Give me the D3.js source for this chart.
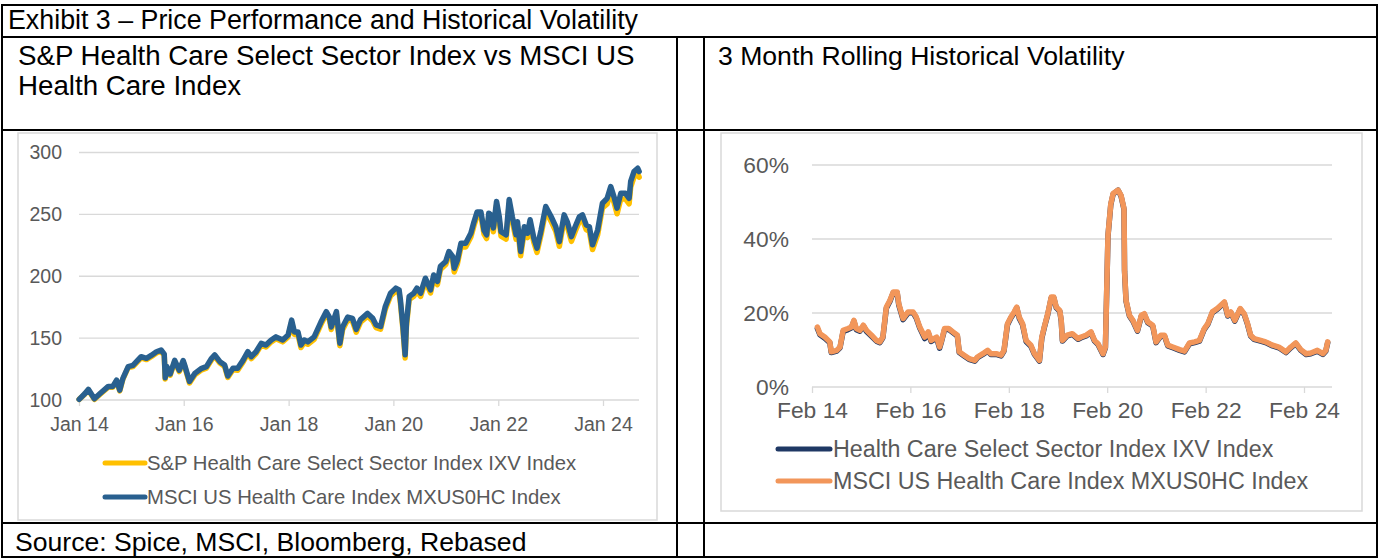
<!DOCTYPE html>
<html><head><meta charset="utf-8">
<script src="https://cdn.jsdelivr.net/npm/d3@7"></script>
<style>
html,body{margin:0;padding:0;background:#fff;}
svg{display:block;font-family:"Liberation Sans",Arial,sans-serif;}
</style></head><body>
<svg id="c" width="1379" height="559"></svg>
<script>
// ---------- DATA ----------
const exhibitTitle = "Exhibit 3 \u2013 Price Performance and Historical Volatility";
const leftTitle = ["S&P Health Care Select Sector Index vs MSCI US", "Health Care Index"];
const rightTitle = "3 Month Rolling Historical Volatility";
const sourceText = "Source: Spice, MSCI, Bloomberg, Rebased";
const priceSeriesNames = ["S&P Health Care Select Sector Index IXV Index", "MSCI US Health Care Index MXUS0HC Index"];
const volSeriesNames = ["Health Care Select Sector Index IXV Index", "MSCI US Health Care Index MXUS0HC Index"];

const priceDates = ["2014-01-02","2014-02-10","2014-03-07","2014-04-18","2014-05-26","2014-07-24","2014-08-25","2014-09-20","2014-10-12","2014-11-03","2014-12-10",
"2015-01-12","2015-03-10","2015-04-16","2015-05-19","2015-06-25","2015-07-27","2015-08-18","2015-08-25","2015-09-05","2015-09-28","2015-10-30","2015-12-01","2015-12-28",
"2016-01-08","2016-02-10","2016-03-18","2016-05-05","2016-06-07","2016-07-13","2016-08-04","2016-09-09","2016-10-12","2016-11-03","2016-12-09",
"2017-01-11","2017-02-17","2017-03-22","2017-04-16","2017-05-19","2017-06-24","2017-07-27","2017-09-02","2017-10-05","2017-11-21","2017-12-28",
"2018-01-22","2018-02-10","2018-03-07","2018-03-28","2018-04-20","2018-05-15","2018-06-28","2018-08-14","2018-09-20","2018-10-12","2018-10-25","2018-11-30","2018-12-24",
"2019-01-12","2019-02-17","2019-03-22","2019-04-17","2019-05-17","2019-07-05","2019-08-10","2019-09-02","2019-10-04","2019-11-06","2019-12-12",
"2020-01-18","2020-02-10","2020-02-19","2020-03-08","2020-03-23","2020-04-01","2020-04-20","2020-05-22","2020-06-13","2020-07-09","2020-08-11","2020-09-16","2020-10-08","2020-11-03","2020-11-24","2020-12-31",
"2021-01-22","2021-02-17","2021-02-28","2021-03-22","2021-04-16","2021-05-19","2021-06-24","2021-07-16","2021-08-07","2021-09-02","2021-09-24","2021-10-12","2021-10-27","2021-11-10","2021-11-28","2021-12-20",
"2022-01-08","2022-01-20","2022-02-25","2022-03-18","2022-04-09","2022-05-05","2022-05-15","2022-06-06","2022-07-02","2022-07-24","2022-08-11","2022-09-06","2022-09-28","2022-10-27","2022-11-28",
"2023-01-04","2023-02-06","2023-03-03","2023-04-05","2023-04-27","2023-05-26","2023-06-21","2023-07-20","2023-08-11","2023-09-06","2023-09-28","2023-10-20","2023-11-25","2023-12-28",
"2024-01-30","2024-02-24","2024-03-17","2024-04-08","2024-05-04","2024-06-05","2024-07-01","2024-07-12","2024-08-04","2024-08-30","2024-09-09"];

const msciPrice = [100.5,105,108.6,101,105,111,111,116,108,117.5,127,
128,135,133.7,136,139,140.4,137,118,127,121,132,124,131.8,
128,115,121.5,125.6,127,133.7,136.4,131,128.3,119.4,125.6,
125.6,132,139,135,139,145.8,144.4,148.5,151,148.5,152.5,
164.6,155,155,144.4,148.5,147,151,163,171.4,167,159,171.4,145.8,
159,167,166,157,165,170,166,160.7,159.4,175.6,186.3,
190.4,189,181,159,136.5,162,183.6,186.3,190.4,186.3,198.4,189,201,195.8,208,212,
220,216,206.5,213,226.7,226.7,234.8,244,252,252,237,233.5,251,249.6,239,260.4,
248,236,233.5,262,248,233.5,244,220,240,234.8,245.6,230.8,222.7,237.5,256.4,
248.3,240,228,249.6,244,232,240,248,249.6,241.5,240,225.4,237.5,259,
263,272.5,264.4,255,267,267,263,276.6,284.6,287.3,284.6];

const spPrice = [100.5,104.6,108.1,100.5,104.5,110.4,110.4,115.4,107.4,116.9,126.3,
127,134,132.7,135,138,139.4,136,117,126,120,131,123,130.8,
126.8,113.8,120.3,124.4,125.8,132.5,135.2,129.8,127.1,118.2,124.4,
124.1,130.5,137.5,133.5,137.5,144.3,142.9,147,149.5,147,151,
162.6,153,153,142.4,146.5,145,149,161,169.4,165,157,169.4,143.8,
156.8,164.8,163.8,154.8,162.8,167.8,163.8,158.5,157.2,173.4,184.1,
187.9,186.5,178.5,156.5,134,159.5,181.1,183.8,187.9,183.8,195.9,186.5,198.5,193.3,205.5,209.5,
217,213,203.5,210,223.7,223.7,231.8,241,249,249,234,230.5,248,246.6,236,257.4,
244.5,232.5,230,258.5,244.5,230,240.5,216.5,236.5,231.3,242.1,227.3,219.2,234,252.9,
244.5,236.2,224.2,245.8,240.2,228.2,236.2,244.2,245.8,237.7,236.2,221.6,233.7,255.2,
258.5,268,259.9,250.5,262.5,262.5,258.5,272.1,280.1,282.8,280.1];

const priceTicks = [100,150,200,250,300];
const priceTickDates = ["2014-01-01","2016-01-01","2018-01-01","2020-01-01","2022-01-01","2024-01-01"];

const volDates = ["2014-03-13","2014-04-01","2014-05-07","2014-06-13","2014-06-24","2014-08-03","2014-08-28","2014-09-20","2014-10-26","2014-11-21","2014-12-09","2014-12-27",
"2015-01-22","2015-02-17","2015-03-13","2015-04-19","2015-05-25","2015-06-20","2015-07-12","2015-08-07","2015-09-02","2015-09-27","2015-10-26","2015-11-07","2015-12-09",
"2016-01-15","2016-02-21","2016-03-16","2016-04-11","2016-05-18","2016-06-13","2016-07-04","2016-08-14","2016-09-05","2016-09-20","2016-10-12","2016-11-11","2016-12-13",
"2017-01-15","2017-01-29","2017-03-06","2017-04-11","2017-05-25","2017-06-13","2017-07-23","2017-08-28","2017-09-20","2017-10-30","2017-12-06","2017-12-27",
"2018-01-22","2018-02-17","2018-03-13","2018-04-01","2018-04-19","2018-05-14","2018-06-09","2018-07-15","2018-08-10","2018-09-16","2018-10-04","2018-10-22","2018-11-17","2018-12-13",
"2019-01-01","2019-01-19","2019-02-14","2019-02-25","2019-03-06","2019-04-11","2019-05-18","2019-07-01","2019-07-23","2019-08-28","2019-10-04","2019-10-30","2019-11-25",
"2020-01-01","2020-01-19","2020-01-26","2020-02-07","2020-02-28","2020-03-16","2020-04-22","2020-05-14","2020-06-05","2020-06-09","2020-06-20","2020-07-15","2020-08-10","2020-09-13","2020-10-12","2020-11-03","2020-11-28",
"2021-01-04","2021-01-29","2021-03-06","2021-04-01","2021-04-26","2021-06-02","2021-07-23","2021-08-28","2021-10-04","2021-11-11","2021-12-17",
"2022-01-22","2022-02-17","2022-03-23","2022-04-28","2022-06-20","2022-07-15","2022-08-07","2022-09-05","2022-10-15","2022-11-14","2022-12-09",
"2023-01-01","2023-01-26","2023-03-16","2023-04-22","2023-06-13","2023-07-29","2023-09-20","2023-10-26","2023-12-02",
"2024-01-08","2024-02-17","2024-03-23","2024-05-10","2024-06-20","2024-07-12","2024-07-26"];

const msciVol = [16.2,14.4,13.5,12.2,9.5,9.9,10.8,15.3,15.8,16.2,18,15.8,
15.3,16.7,15.3,14,12.6,12.2,13.5,21.6,23.4,25.7,25.7,22.5,18.5,
20.3,20.3,18.9,16.2,13.5,14.9,12.6,13.5,10.8,12.6,15.8,15.8,14.9,
14,9.5,8.6,7.7,7.2,8.1,9,9.9,9,9,8.6,9.9,
17.1,18.9,20.3,21.6,18.9,17.1,12.6,11.3,9,7.2,13.5,16.2,19.8,24.3,
24.3,21.6,20.7,18,12.6,14,14.4,13.1,13.5,14,14.9,12.6,11.7,
9,10.8,22,41,49.5,52.3,53.2,51.8,48.2,31.5,23.4,19.4,18,15.3,19.4,19.8,17.6,
16.7,12.2,14,14,11.3,10.8,10.1,9.7,11.9,12.2,12.6,
15.8,17.1,20.3,21.2,23,19.4,20.3,18,21.2,19.8,17.1,
14,13.1,12.6,12.2,11.3,10.8,9.5,10.8,11.9,
10.1,9,9.2,9.9,9,9.9,12.2];

const ixvVol = [15.8,14.1,13.2,12,9.3,9.7,10.6,15,15.5,16,17.8,15.5,
15.1,16.5,15,13.7,12.4,12,13.3,21.3,23.1,25.5,25.5,22.2,18.2,
20,20.1,18.6,15.9,13.1,14.6,12.3,13.2,10.5,12.4,15.5,15.6,14.7,
13.8,9.3,8.4,7.5,7,7.9,8.8,9.7,8.8,8.8,8.4,9.7,
16.8,18.7,20,21.4,18.6,16.8,12.3,11,8.8,7,13.2,16,19.6,24.1,
24.1,21.4,20.5,17.8,12.4,13.8,14.2,12.9,13.3,13.8,14.7,12.4,11.5,
8.8,10.6,21.8,40.8,49.3,52.1,53.2,51.6,48,31.3,23.2,19.2,17.8,15.1,19.2,19.6,17.4,
16.5,12,13.8,13.8,11.1,10.6,9.9,9.5,11.7,12,12.4,
15.6,16.9,20.1,21,22.8,19.2,20.1,17.8,21,19.6,16.9,
13.8,12.9,12.4,12,11.1,10.6,9.3,10.6,11.7,
9.9,8.8,9,9.7,8.8,9.7,12];

const volTicks = [0,20,40,60];
const volTickDates = ["2014-02-01","2016-02-01","2018-02-01","2020-02-01","2022-02-01","2024-02-01"];

// ---------- STYLE ----------
const C = {
  border:"#000", frame:"#d9d9d9", grid:"#d9d9d9", text:"#595959",
  yellow:"#FFC000", blue:"#29608F", navy:"#1F3864", orange:"#F2965A"
};
const FONT = "Liberation Sans, Arial, sans-serif";
const parse = d3.timeParse("%Y-%m-%d");
const svg = d3.select("#c");

// ---------- TABLE ----------
const tb = svg.append("g");
const hl = (y,x1,x2)=>tb.append("line").attr("x1",x1).attr("x2",x2).attr("y1",y).attr("y2",y).attr("stroke",C.border).attr("stroke-width",2);
const vl = (x,y1,y2)=>tb.append("line").attr("x1",x).attr("x2",x).attr("y1",y1).attr("y2",y2).attr("stroke",C.border).attr("stroke-width",2);
hl(5,1,1378); hl(37,1,1378); hl(130,1,1378); hl(523,1,1378); hl(557,1,1378);
vl(2,5,557); vl(1377,5,557); vl(677,37,557); vl(704,37,557);

tb.append("text").attr("x",8).attr("y",29).attr("font-size",26.8).attr("fill","#000").text(exhibitTitle);
leftTitle.forEach((t,i)=>tb.append("text").attr("x",18).attr("y",65+i*30).attr("font-size",27.7).attr("fill","#000").text(t));
tb.append("text").attr("x",718).attr("y",65).attr("font-size",26.6).attr("fill","#000").text(rightTitle);
tb.append("text").attr("x",15).attr("y",551).attr("font-size",26.6).attr("fill","#000").text(sourceText);

// ---------- LEFT CHART ----------
const L = svg.append("g");
L.append("rect").attr("x",18).attr("y",133).attr("width",639).attr("height",387).attr("fill","#fff").attr("stroke",C.frame).attr("stroke-width",1.5);
const xL = d3.scaleTime().domain([parse("2014-01-01"), parse("2024-01-01")]).range([79,603]);
const yL = d3.scaleLinear().domain([100,300]).range([400,152.5]);
L.append("g").selectAll("line").data(priceTicks).join("line")
  .attr("x1",79).attr("x2",639).attr("y1",d=>yL(d)).attr("y2",d=>yL(d))
  .attr("stroke",C.grid).attr("stroke-width",1.3);
const axLx = L.append("g").attr("transform","translate(0,400)")
  .call(d3.axisBottom(xL).tickValues(priceTickDates.map(parse)).tickSize(6).tickPadding(11).tickFormat(d3.timeFormat("%b %y")));
axLx.select(".domain").remove();
axLx.selectAll("line").attr("stroke",C.grid).attr("stroke-width",1.3);
axLx.selectAll("text").attr("fill",C.text).attr("font-size",19.5).attr("font-family",FONT);
const axLy = L.append("g").attr("transform","translate(79,0)")
  .call(d3.axisLeft(yL).tickValues(priceTicks).tickSize(0).tickPadding(17));
axLy.select(".domain").remove();
axLy.selectAll("text").attr("fill",C.text).attr("font-size",19.5).attr("font-family",FONT);

const lineL = d3.line().x(d=>xL(d[0])).y(d=>yL(d[1]));
const pd = priceDates.map(parse);
L.append("path").datum(pd.map((d,i)=>[d,spPrice[i]])).attr("d",lineL)
  .attr("fill","none").attr("stroke",C.yellow).attr("stroke-width",5.5).attr("stroke-linejoin","round").attr("stroke-linecap","round");
L.append("path").datum(pd.map((d,i)=>[d,msciPrice[i]])).attr("d",lineL)
  .attr("fill","none").attr("stroke",C.blue).attr("stroke-width",5.5).attr("stroke-linejoin","round").attr("stroke-linecap","round");

const legL = L.append("g");
[[C.yellow,463],[C.blue,497]].forEach((c,i)=>{
  legL.append("line").attr("x1",105).attr("x2",145).attr("y1",c[1]).attr("y2",c[1]).attr("stroke",c[0]).attr("stroke-width",5).attr("stroke-linecap","round");
  legL.append("text").attr("x",147).attr("y",c[1]).attr("dy","0.35em").attr("font-size",20.3).attr("fill",C.text).text(priceSeriesNames[i]);
});

// ---------- RIGHT CHART ----------
const R = svg.append("g");
R.append("rect").attr("x",721).attr("y",133).attr("width",641).attr("height",378).attr("fill","#fff").attr("stroke",C.frame).attr("stroke-width",1.5);
const xR = d3.scaleTime().domain([parse("2014-02-01"), parse("2024-02-01")]).range([812,1304]);
const yR = d3.scaleLinear().domain([0,60]).range([387,165]);
R.append("g").selectAll("line").data(volTicks).join("line")
  .attr("x1",812).attr("x2",1332).attr("y1",d=>yR(d)).attr("y2",d=>yR(d))
  .attr("stroke",C.grid).attr("stroke-width",1.3);
const axRx = R.append("g").attr("transform","translate(0,387)")
  .call(d3.axisBottom(xR).tickValues(volTickDates.map(parse)).tickSize(6).tickPadding(9).tickFormat(d3.timeFormat("%b %y")));
axRx.select(".domain").remove();
axRx.selectAll("line").attr("stroke",C.grid).attr("stroke-width",1.3);
axRx.selectAll("text").attr("fill",C.text).attr("font-size",22.8).attr("font-family",FONT);
const axRy = R.append("g").attr("transform","translate(812,0)")
  .call(d3.axisLeft(yR).tickValues(volTicks).tickSize(0).tickPadding(23).tickFormat(d=>d+"%"));
axRy.select(".domain").remove();
axRy.selectAll("text").attr("fill",C.text).attr("font-size",22.8).attr("font-family",FONT);

const lineR = d3.line().x(d=>xR(d[0])).y(d=>yR(d[1]));
const vd = volDates.map(parse);
R.append("path").datum(vd.map((d,i)=>[d,ixvVol[i]])).attr("d",lineR)
  .attr("fill","none").attr("stroke",C.navy).attr("stroke-width",5.5).attr("stroke-linejoin","round").attr("stroke-linecap","round");
R.append("path").datum(vd.map((d,i)=>[d,msciVol[i]])).attr("d",lineR)
  .attr("fill","none").attr("stroke",C.orange).attr("stroke-width",5.5).attr("stroke-linejoin","round").attr("stroke-linecap","round");

const legR = R.append("g");
[[C.navy,449],[C.orange,481]].forEach((c,i)=>{
  legR.append("line").attr("x1",778).attr("x2",830).attr("y1",c[1]).attr("y2",c[1]).attr("stroke",c[0]).attr("stroke-width",5).attr("stroke-linecap","round");
  legR.append("text").attr("x",833).attr("y",c[1]).attr("dy","0.35em").attr("font-size",23.3).attr("fill",C.text).text(volSeriesNames[i]);
});
</script>
</body></html>
